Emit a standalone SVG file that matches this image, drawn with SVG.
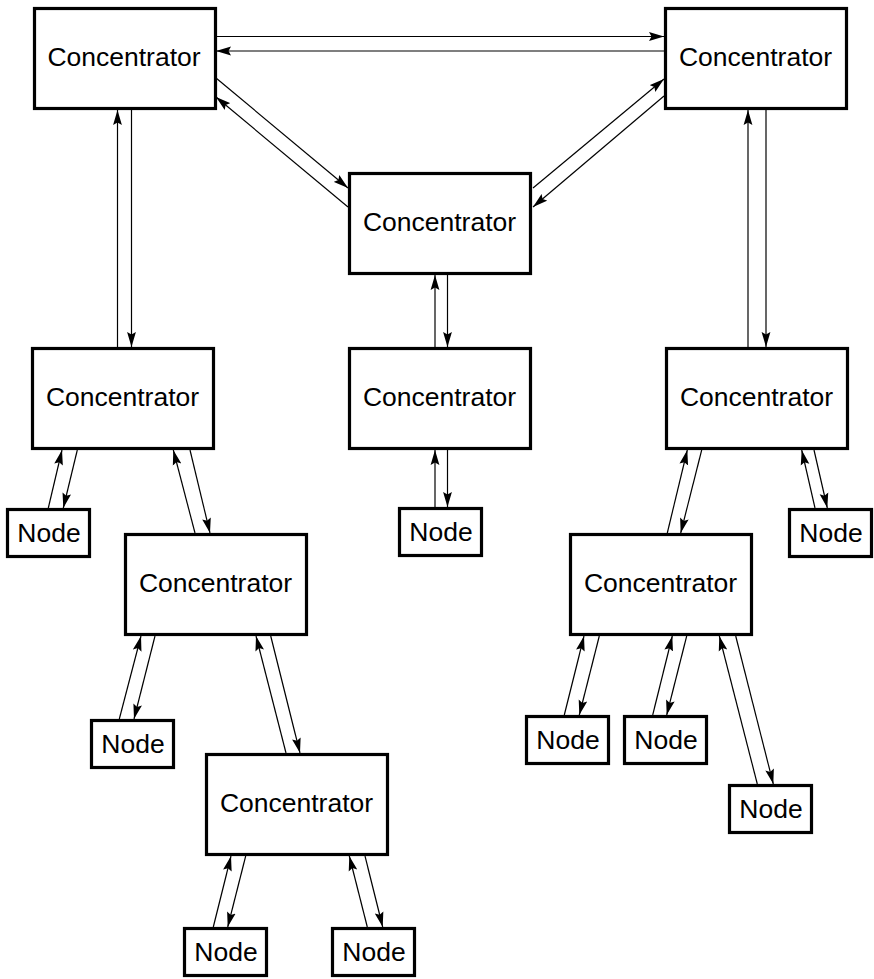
<svg xmlns="http://www.w3.org/2000/svg" width="874" height="979" viewBox="0 0 874 979">
<style>
.box{fill:#fff;stroke:#000;stroke-width:3.2}
.lbl{font-family:"Liberation Sans",Arial,sans-serif;font-size:26.5px;fill:#000;text-anchor:middle}
.c line{stroke:#000;stroke-width:1.2;marker-end:url(#ah)}
</style>
<defs>
<marker id="ah" markerUnits="userSpaceOnUse" markerWidth="16" markerHeight="10" viewBox="0 0 16 10" refX="15" refY="5" orient="auto">
<path d="M0,0.6 L15,5 L0,9.4 L2.5,5 Z" fill="#000"/>
</marker>
</defs>
<rect width="874" height="979" fill="#fff"/>
<g class="c" id="connectors">
<line x1="216" y1="36.5" x2="664" y2="36.5"/>
<line x1="664" y1="51" x2="216" y2="51"/>
<line x1="216" y1="78" x2="348" y2="188"/>
<line x1="348" y1="207" x2="216" y2="97"/>
<line x1="533" y1="188" x2="664" y2="79"/>
<line x1="664" y1="96" x2="533" y2="207"/>
<line x1="117.5" y1="347" x2="117.5" y2="110"/>
<line x1="131.5" y1="110" x2="131.5" y2="347"/>
<line x1="435" y1="347" x2="435" y2="275"/>
<line x1="447.5" y1="275" x2="447.5" y2="347"/>
<line x1="435" y1="507" x2="435" y2="450"/>
<line x1="447.5" y1="450" x2="447.5" y2="507"/>
<line x1="748" y1="347" x2="748" y2="110"/>
<line x1="766" y1="110" x2="766" y2="347"/>
<line x1="48.3" y1="508" x2="62" y2="450"/>
<line x1="77.3" y1="450" x2="63.3" y2="508"/>
<line x1="195" y1="533" x2="173.3" y2="450"/>
<line x1="190" y1="450" x2="210" y2="533"/>
<line x1="119.3" y1="719" x2="141" y2="636"/>
<line x1="155" y1="636" x2="134" y2="719"/>
<line x1="286" y1="753" x2="256" y2="636"/>
<line x1="270.7" y1="636" x2="300" y2="753"/>
<line x1="213.3" y1="927" x2="231" y2="856"/>
<line x1="245.7" y1="856" x2="227.7" y2="927"/>
<line x1="367.3" y1="927" x2="349.3" y2="856"/>
<line x1="365" y1="856" x2="382.7" y2="927"/>
<line x1="815" y1="508" x2="801.7" y2="450"/>
<line x1="814" y1="450" x2="827.3" y2="508"/>
<line x1="667.3" y1="533" x2="687.3" y2="450"/>
<line x1="701.7" y1="450" x2="680.7" y2="533"/>
<line x1="564.3" y1="715" x2="584" y2="636"/>
<line x1="599.3" y1="636" x2="579.3" y2="715"/>
<line x1="652.7" y1="715" x2="672.3" y2="636"/>
<line x1="686.7" y1="636" x2="666.7" y2="715"/>
<line x1="757.3" y1="784" x2="719.3" y2="636"/>
<line x1="735.7" y1="636" x2="773.3" y2="784"/>
</g>
<g id="concA"><rect class="box" x="34.5" y="8.5" width="181" height="100"/><text class="lbl" x="124" y="66">Concentrator</text></g>
<g id="concB"><rect class="box" x="665.5" y="8.5" width="181" height="100"/><text class="lbl" x="755.5" y="66">Concentrator</text></g>
<g id="concM"><rect class="box" x="349.5" y="173.5" width="181" height="100"/><text class="lbl" x="439.5" y="231">Concentrator</text></g>
<g id="concL2"><rect class="box" x="32.5" y="348.5" width="181" height="100"/><text class="lbl" x="122.5" y="406">Concentrator</text></g>
<g id="concC2"><rect class="box" x="349.5" y="348.5" width="181" height="100"/><text class="lbl" x="439.5" y="406">Concentrator</text></g>
<g id="concR2"><rect class="box" x="666.5" y="348.5" width="181" height="100"/><text class="lbl" x="756.5" y="406">Concentrator</text></g>
<g id="concL3"><rect class="box" x="125.5" y="534.5" width="181" height="100"/><text class="lbl" x="215.5" y="592">Concentrator</text></g>
<g id="concR3"><rect class="box" x="570.5" y="534.5" width="181" height="100"/><text class="lbl" x="660.5" y="592">Concentrator</text></g>
<g id="concL4"><rect class="box" x="206.5" y="754.5" width="181" height="100"/><text class="lbl" x="296.5" y="812">Concentrator</text></g>
<g id="node1"><rect class="box" x="7.5" y="509.5" width="82" height="47"/><text class="lbl" x="49" y="542">Node</text></g>
<g id="node2"><rect class="box" x="399.5" y="508.5" width="82" height="47"/><text class="lbl" x="441" y="541">Node</text></g>
<g id="node3"><rect class="box" x="789.5" y="509.5" width="82" height="47"/><text class="lbl" x="831" y="542">Node</text></g>
<g id="node4"><rect class="box" x="91.5" y="720.5" width="82" height="47"/><text class="lbl" x="133" y="753">Node</text></g>
<g id="node5"><rect class="box" x="184.5" y="928.5" width="82" height="47"/><text class="lbl" x="226" y="961">Node</text></g>
<g id="node6"><rect class="box" x="332.5" y="928.5" width="82" height="47"/><text class="lbl" x="374" y="961">Node</text></g>
<g id="node7"><rect class="box" x="526.5" y="716.5" width="82" height="47"/><text class="lbl" x="568" y="749">Node</text></g>
<g id="node8"><rect class="box" x="624.5" y="716.5" width="82" height="47"/><text class="lbl" x="666" y="749">Node</text></g>
<g id="node9"><rect class="box" x="729.5" y="785.5" width="82" height="47"/><text class="lbl" x="771" y="818">Node</text></g>
</svg>
